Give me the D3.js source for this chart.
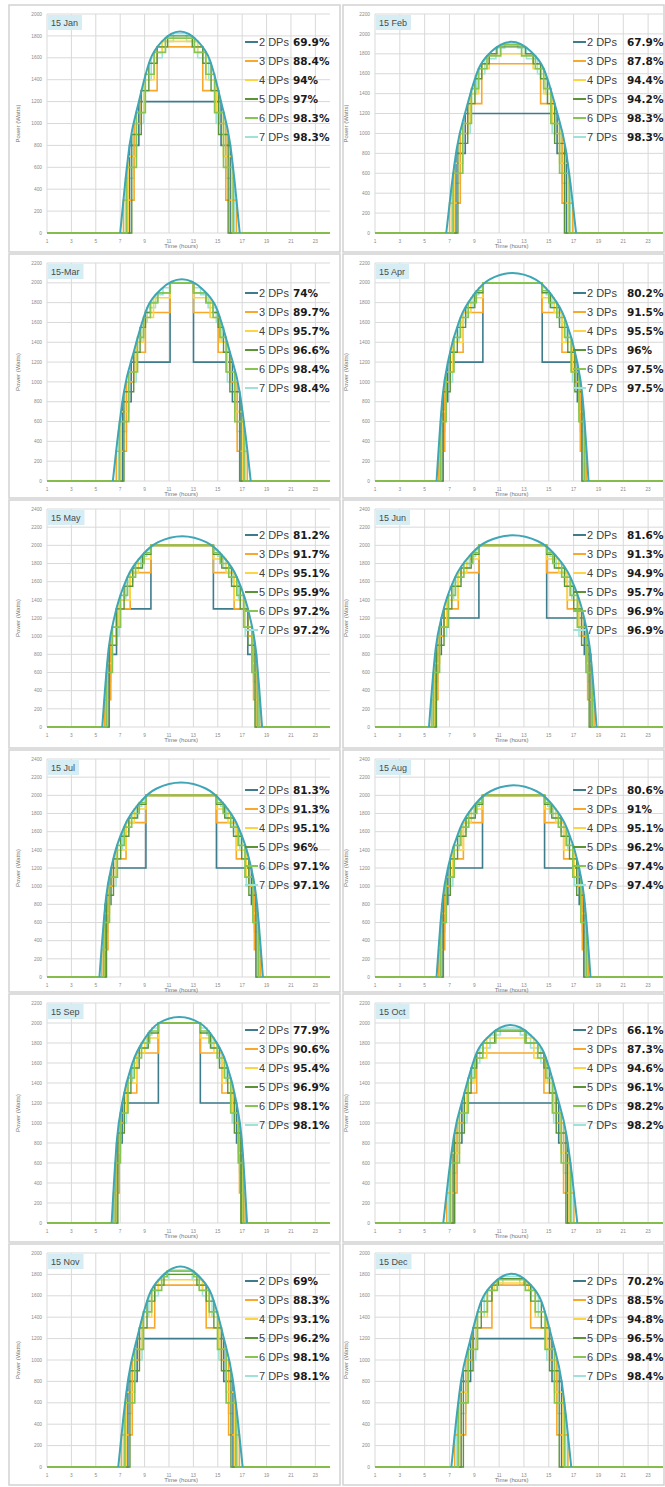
<!DOCTYPE html>
<html>
<head>
<meta charset="utf-8">
<script src="https://cdn.jsdelivr.net/npm/d3@7"></script>
<style>
  body { margin: 0; background: #fff; }
  svg { display: block; }
</style>
</head>
<body>
<svg width="665" height="1487"></svg>
<script>
// 12 small multiples: clear-sky power curve vs stepped "DP" approximations

var titles  = ["15 Jan", "15 Feb", "15-Mar", "15 Apr", "15 May", "15 Jun",
               "15 Jul", "15 Aug", "15 Sep", "15 Oct", "15 Nov", "15 Dec"];
var yMaxes  = [2000, 2200, 2200, 2200, 2400, 2400, 2400, 2400, 2200, 2200, 2000, 2000];
var dpNames = ["2 DPs", "3 DPs", "4 DPs", "5 DPs", "6 DPs", "7 DPs"];
var dpColors = ["#3e7c8c", "#f8a92b", "#fdd443", "#5b9436", "#86c552", "#9fe3d8"];
var xTicks  = [1, 3, 5, 7, 9, 11, 13, 15, 17, 19, 21, 23];

// captured energy (%) for 2..7 DPs
var pctJan = [69.9, 88.4, 94, 97, 98.3, 98.3];
var pctFeb = [67.9, 87.8, 94.4, 94.2, 98.3, 98.3];
var pctMar = [74, 89.7, 95.7, 96.6, 98.4, 98.4];
var pctApr = [80.2, 91.5, 95.5, 96, 97.5, 97.5];
var pctMay = [81.2, 91.7, 95.1, 95.9, 97.2, 97.2];
var pctJun = [81.6, 91.3, 94.9, 95.7, 96.9, 96.9];
var pctJul = [81.3, 91.3, 95.1, 96, 97.1, 97.1];
var pctAug = [80.6, 91, 95.1, 96.2, 97.4, 97.4];
var pctSep = [77.9, 90.6, 95.4, 96.9, 98.1, 98.1];
var pctOct = [66.1, 87.3, 94.6, 96.1, 98.2, 98.2];
var pctNov = [69, 88.3, 93.1, 96.2, 98.1, 98.1];
var pctDec = [70.2, 88.5, 94.8, 96.5, 98.4, 98.4];

// smooth power curve [hour, watts]
var curveJan = [[7.0,0],[7.39,440],[7.78,810],[8.52,1195],[9.45,1580],[10.43,1750],[11.9,1840],[13.37,1750],[14.35,1580],[15.28,1195],[16.02,810],[16.41,440],[16.8,0]];
var curveFeb = [[6.74,0],[7.16,460],[7.58,845],[8.36,1250],[9.35,1650],[10.4,1825],[11.97,1920],[13.54,1825],[14.59,1650],[15.58,1250],[16.36,845],[16.78,460],[17.2,0]];
var curveMar = [[6.4,0],[6.85,490],[7.3,895],[8.15,1320],[9.22,1750],[10.35,1935],[12.05,2035],[13.75,1935],[14.88,1750],[15.95,1320],[16.8,895],[17.25,490],[17.7,0]];
var curveApr = [[5.96,0],[6.45,860],[6.94,1240],[7.86,1640],[9.02,1890],[10.24,2035],[12.08,2100],[13.92,2035],[15.14,1890],[16.3,1640],[17.22,1240],[17.71,860],[18.2,0]];
var curveMay = [[5.53,0],[6.05,860],[6.58,1240],[7.56,1640],[8.8,1890],[10.11,2035],[12.08,2100],[14.05,2035],[15.36,1890],[16.6,1640],[17.58,1240],[18.11,860],[18.63,0]];
var curveJun = [[5.35,0],[5.89,865],[6.43,1245],[7.44,1645],[8.72,1900],[10.07,2045],[12.1,2110],[14.13,2045],[15.48,1900],[16.76,1645],[17.77,1245],[18.31,865],[18.85,0]];
var curveJul = [[5.3,0],[5.84,875],[6.37,1265],[7.38,1670],[8.65,1925],[9.99,2075],[12.0,2140],[14.01,2075],[15.35,1925],[16.62,1670],[17.63,1265],[18.16,875],[18.7,0]];
var curveAug = [[5.96,0],[6.46,865],[6.95,1245],[7.88,1645],[9.06,1900],[10.3,2045],[12.16,2110],[14.02,2045],[15.26,1900],[16.44,1645],[17.37,1245],[17.86,865],[18.36,0]];
var curveSep = [[6.3,0],[6.74,845],[7.19,1215],[8.02,1605],[9.07,1855],[10.18,2000],[11.85,2060],[13.52,2000],[14.63,1855],[15.68,1605],[16.51,1215],[16.96,845],[17.4,0]];
var curveOct = [[6.5,0],[6.93,475],[7.36,870],[8.17,1285],[9.2,1705],[10.28,1880],[11.9,1980],[13.52,1880],[14.6,1705],[15.63,1285],[16.44,870],[16.87,475],[17.3,0]];
var curveNov = [[6.84,0],[7.25,450],[7.66,825],[8.42,1220],[9.39,1610],[10.41,1780],[11.94,1875],[13.47,1780],[14.49,1610],[15.46,1220],[16.22,825],[16.63,450],[17.04,0]];
var curveDec = [[7.15,0],[7.54,435],[7.92,795],[8.65,1175],[9.56,1550],[10.53,1715],[11.98,1805],[13.43,1715],[14.4,1550],[15.31,1175],[16.04,795],[16.42,435],[16.81,0]];

// step series per DP count (2..7), [hour, watts] where the level changes
var stepsJan = [
  [[7.77,800],[8.53,1200],[15.27,800],[16.03,0]],
  [[7.27,300],[8.14,1000],[8.73,1300],[10.03,1700],[13.77,1300],[15.07,1000],[15.66,300],[16.53,0]],
  [[7.66,700],[8.33,1100],[8.93,1400],[9.78,1650],[10.45,1750],[13.35,1650],[14.02,1400],[14.87,1100],[15.47,700],[16.14,0]],
  [[7.95,900],[8.73,1300],[9.35,1550],[10.03,1700],[10.89,1800],[12.91,1700],[13.77,1550],[14.45,1300],[15.07,900],[15.85,0]],
  [[7.54,600],[8.33,1100],[9.06,1450],[9.78,1650],[10.71,1780],[13.09,1650],[14.02,1450],[14.74,1100],[15.47,600],[16.26,0]],
  [[7.44,500],[8.14,1000],[8.93,1400],[9.54,1600],[10.45,1750],[11.36,1820],[12.44,1750],[13.35,1600],[14.26,1400],[14.87,1000],[15.66,500],[16.36,0]]
];
var stepsFeb = [
  [[7.52,800],[8.27,1200],[15.67,800],[16.42,0]],
  [[7.01,300],[7.87,1000],[8.47,1300],[9.6,1700],[14.34,1300],[15.47,1000],[16.07,300],[16.93,0]],
  [[7.41,700],[8.07,1100],[8.67,1400],[9.35,1650],[10.2,1800],[13.74,1650],[14.59,1400],[15.27,1100],[15.87,700],[16.53,0]],
  [[7.68,900],[8.47,1300],[9.05,1550],[9.6,1700],[10.2,1800],[10.82,1870],[13.12,1800],[13.74,1700],[14.34,1550],[14.89,1300],[15.47,900],[16.26,0]],
  [[7.29,600],[8.07,1100],[8.77,1450],[9.35,1650],[10.02,1780],[11.13,1890],[12.81,1780],[13.92,1650],[14.59,1450],[15.17,1100],[15.87,600],[16.65,0]],
  [[7.19,500],[7.87,1000],[8.67,1400],[9.2,1600],[9.85,1750],[10.74,1860],[11.45,1900],[12.49,1860],[13.2,1750],[14.09,1600],[14.74,1400],[15.27,1000],[16.07,500],[16.75,0]]
];
var stepsMar = [
  [[7.19,800],[7.9,1200],[11.09,2000],[13.01,1200],[16.2,800],[16.91,0]],
  [[6.68,300],[7.51,1000],[8.11,1300],[9.07,1700],[11.09,2000],[13.01,1700],[15.03,1300],[15.99,1000],[16.59,300],[17.42,0]],
  [[7.07,700],[7.7,1100],[8.31,1400],[8.92,1650],[9.73,1850],[11.09,2000],[13.01,1850],[14.37,1650],[15.18,1400],[15.79,1100],[16.4,700],[17.03,0]],
  [[7.31,900],[8.11,1300],[8.63,1550],[9.07,1700],[9.48,1800],[10.07,1900],[11.09,2000],[13.01,1900],[14.03,1800],[14.62,1700],[15.03,1550],[15.47,1300],[15.99,900],[16.79,0]],
  [[6.95,600],[7.7,1100],[8.42,1450],[8.92,1650],[9.48,1800],[10.07,1900],[11.09,2000],[13.01,1900],[14.03,1800],[14.62,1650],[15.18,1450],[15.68,1100],[16.4,600],[17.15,0]],
  [[6.86,500],[7.51,1000],[8.31,1400],[8.76,1600],[9.22,1750],[9.89,1880],[10.51,1950],[11.09,2000],[13.01,1950],[13.59,1880],[14.21,1750],[14.88,1600],[15.34,1400],[15.79,1000],[16.59,500],[17.24,0]]
];
var stepsApr = [
  [[6.39,800],[6.86,1200],[9.69,2000],[14.47,1200],[17.3,800],[17.77,0]],
  [[6.14,300],[6.62,1000],[7.06,1300],[8.1,1700],[9.69,2000],[14.47,1700],[16.06,1300],[17.1,1000],[17.54,300],[18.02,0]],
  [[6.34,700],[6.73,1100],[7.25,1400],[8.1,1700],[8.73,1850],[9.69,2000],[14.47,1850],[15.43,1700],[16.06,1400],[16.91,1100],[17.43,700],[17.82,0]],
  [[6.5,900],[7.06,1300],[7.63,1550],[8.3,1750],[9.04,1900],[9.69,2000],[14.47,1900],[15.12,1750],[15.86,1550],[16.53,1300],[17.1,900],[17.66,0]],
  [[6.29,600],[6.73,1100],[7.36,1450],[7.89,1650],[8.51,1800],[9.16,1920],[9.69,2000],[14.47,1920],[15.0,1800],[15.65,1650],[16.27,1450],[16.8,1100],[17.43,600],[17.87,0]],
  [[6.24,500],[6.62,1000],[7.25,1400],[7.77,1600],[8.3,1750],[8.91,1880],[9.36,1950],[9.69,2000],[14.47,1950],[14.8,1880],[15.25,1750],[15.86,1600],[16.39,1400],[16.91,1000],[17.54,500],[17.92,0]]
];
var stepsMay = [
  [[5.99,800],[6.7,1300],[9.52,2000],[14.64,1300],[17.46,800],[18.17,0]],
  [[5.72,300],[6.23,1000],[6.7,1300],[7.82,1700],[9.52,2000],[14.64,1700],[16.34,1300],[17.46,1000],[17.93,300],[18.44,0]],
  [[5.94,700],[6.36,1100],[6.91,1400],[7.82,1700],[8.49,1850],[9.52,2000],[14.64,1850],[15.67,1700],[16.34,1400],[17.25,1100],[17.8,700],[18.22,0]],
  [[6.11,900],[6.7,1300],[7.32,1550],[8.03,1750],[8.83,1900],[9.52,2000],[14.64,1900],[15.33,1750],[16.13,1550],[16.84,1300],[17.46,900],[18.05,0]],
  [[5.88,600],[6.36,1100],[7.03,1450],[7.6,1650],[8.26,1800],[8.96,1920],[9.52,2000],[14.64,1920],[15.2,1800],[15.9,1650],[16.56,1450],[17.13,1100],[17.8,600],[18.28,0]],
  [[5.83,500],[6.23,1000],[6.91,1400],[7.46,1600],[8.03,1750],[8.69,1880],[9.17,1950],[9.52,2000],[14.64,1950],[14.99,1880],[15.47,1750],[16.13,1600],[16.7,1400],[17.25,1000],[17.93,500],[18.33,0]]
];
var stepsJun = [
  [[5.82,800],[6.34,1200],[9.37,2000],[14.83,1200],[17.86,800],[18.38,0]],
  [[5.55,300],[6.07,1000],[6.56,1300],[7.71,1700],[9.37,2000],[14.83,1700],[16.49,1300],[17.64,1000],[18.13,300],[18.65,0]],
  [[5.77,700],[6.2,1100],[6.77,1400],[7.71,1700],[8.4,1850],[9.37,2000],[14.83,1850],[15.8,1700],[16.49,1400],[17.43,1100],[18.0,700],[18.43,0]],
  [[5.95,900],[6.56,1300],[7.19,1550],[7.93,1750],[8.75,1900],[9.37,2000],[14.83,1900],[15.45,1750],[16.27,1550],[17.01,1300],[17.64,900],[18.25,0]],
  [[5.71,600],[6.2,1100],[6.9,1450],[7.48,1650],[8.16,1800],[8.88,1920],[9.37,2000],[14.83,1920],[15.32,1800],[16.04,1650],[16.72,1450],[17.3,1100],[18.0,600],[18.49,0]],
  [[5.66,500],[6.07,1000],[6.77,1400],[7.34,1600],[7.93,1750],[8.6,1880],[9.1,1950],[9.37,2000],[14.83,1950],[15.1,1880],[15.6,1750],[16.27,1600],[16.86,1400],[17.43,1000],[18.13,500],[18.54,0]]
];
var stepsJul = [
  [[5.76,800],[6.24,1200],[9.11,2000],[14.89,1200],[17.76,800],[18.24,0]],
  [[5.49,300],[6.0,1000],[6.45,1300],[7.48,1700],[9.11,2000],[14.89,1700],[16.52,1300],[17.55,1000],[18.0,300],[18.51,0]],
  [[5.71,700],[6.12,1100],[6.66,1400],[7.48,1700],[8.16,1850],[9.11,2000],[14.89,1850],[15.84,1700],[16.52,1400],[17.34,1100],[17.88,700],[18.29,0]],
  [[5.88,900],[6.45,1300],[7.04,1550],[7.71,1750],[8.43,1900],[9.11,2000],[14.89,1900],[15.57,1750],[16.29,1550],[16.96,1300],[17.55,900],[18.12,0]],
  [[5.66,600],[6.12,1100],[6.77,1450],[7.33,1650],[7.94,1800],[8.56,1920],[9.11,2000],[14.89,1920],[15.44,1800],[16.06,1650],[16.67,1450],[17.23,1100],[17.88,600],[18.34,0]],
  [[5.61,500],[6.0,1000],[6.66,1400],[7.19,1600],[7.71,1750],[8.31,1880],[8.76,1950],[9.11,2000],[14.89,1950],[15.24,1880],[15.69,1750],[16.29,1600],[16.81,1400],[17.34,1000],[18.0,500],[18.39,0]]
];
var stepsAug = [
  [[6.39,800],[6.87,1200],[9.66,2000],[14.66,1200],[17.45,800],[17.93,0]],
  [[6.14,300],[6.62,1000],[7.07,1300],[8.12,1700],[9.66,2000],[14.66,1700],[16.2,1300],[17.25,1000],[17.7,300],[18.18,0]],
  [[6.34,700],[6.74,1100],[7.27,1400],[8.12,1700],[8.76,1850],[9.66,2000],[14.66,1850],[15.56,1700],[16.2,1400],[17.05,1100],[17.58,700],[17.98,0]],
  [[6.51,900],[7.07,1300],[7.65,1550],[8.33,1750],[9.08,1900],[9.66,2000],[14.66,1900],[15.24,1750],[15.99,1550],[16.67,1300],[17.25,900],[17.81,0]],
  [[6.29,600],[6.74,1100],[7.38,1450],[7.92,1650],[8.55,1800],[9.2,1920],[9.66,2000],[14.66,1920],[15.12,1800],[15.77,1650],[16.4,1450],[16.94,1100],[17.58,600],[18.03,0]],
  [[6.25,500],[6.62,1000],[7.27,1400],[7.79,1600],[8.33,1750],[8.95,1880],[9.4,1950],[9.66,2000],[14.66,1950],[14.92,1880],[15.37,1750],[15.99,1600],[16.53,1400],[17.05,1000],[17.7,500],[18.07,0]]
];
var stepsSep = [
  [[6.71,800],[7.16,1200],[10.13,2000],[13.57,1200],[16.54,800],[16.99,0]],
  [[6.46,300],[6.92,1000],[7.34,1300],[8.36,1700],[10.13,2000],[13.57,1700],[15.34,1300],[16.36,1000],[16.78,300],[17.24,0]],
  [[6.65,700],[7.02,1100],[7.52,1400],[8.36,1700],[9.01,1850],[10.13,2000],[13.57,1850],[14.69,1700],[15.34,1400],[16.18,1100],[16.68,700],[17.05,0]],
  [[6.81,900],[7.34,1300],[7.88,1550],[8.56,1750],[9.3,1900],[10.13,2000],[13.57,1900],[14.4,1750],[15.14,1550],[15.82,1300],[16.36,900],[16.89,0]],
  [[6.61,600],[7.02,1100],[7.64,1450],[8.16,1650],[8.75,1800],[9.41,1920],[10.13,2000],[13.57,1920],[14.29,1800],[14.95,1650],[15.54,1450],[16.06,1100],[16.68,600],[17.09,0]],
  [[6.56,500],[6.92,1000],[7.52,1400],[8.01,1600],[8.56,1750],[9.19,1880],[9.59,1950],[10.13,2000],[13.57,1950],[14.11,1880],[14.51,1750],[15.14,1600],[15.69,1400],[16.18,1000],[16.78,500],[17.14,0]]
];
var stepsOct = [
  [[7.28,800],[8.0,1200],[15.8,800],[16.52,0]],
  [[6.78,300],[7.61,1000],[8.2,1300],[9.19,1700],[14.61,1300],[15.6,1000],[16.19,300],[17.02,0]],
  [[7.17,700],[7.8,1100],[8.41,1400],[9.04,1650],[10.0,1850],[13.8,1650],[14.76,1400],[15.39,1100],[16.0,700],[16.63,0]],
  [[7.42,900],[8.2,1300],[8.74,1550],[9.19,1700],[9.69,1800],[10.64,1920],[13.16,1800],[14.11,1700],[14.61,1550],[15.06,1300],[15.6,900],[16.38,0]],
  [[7.05,600],[7.8,1100],[8.51,1450],[9.04,1650],[9.69,1800],[10.73,1930],[13.07,1800],[14.11,1650],[14.76,1450],[15.29,1100],[16.0,600],[16.75,0]],
  [[6.95,500],[7.61,1000],[8.41,1400],[8.89,1600],[9.44,1750],[10.27,1880],[11.09,1950],[12.71,1880],[13.53,1750],[14.36,1600],[14.91,1400],[15.39,1000],[16.19,500],[16.85,0]]
];
var stepsNov = [
  [[7.63,800],[8.39,1200],[15.49,800],[16.25,0]],
  [[7.11,300],[7.99,1000],[8.58,1300],[9.83,1700],[14.05,1300],[15.3,1000],[15.89,300],[16.77,0]],
  [[7.51,700],[8.19,1100],[8.79,1400],[9.58,1650],[10.13,1750],[13.75,1650],[14.3,1400],[15.09,1100],[15.69,700],[16.37,0]],
  [[7.8,900],[8.58,1300],[9.2,1550],[9.83,1700],[10.59,1800],[13.29,1700],[14.05,1550],[14.68,1300],[15.3,900],[16.08,0]],
  [[7.39,600],[8.19,1100],[8.9,1450],[9.58,1650],[10.4,1780],[10.85,1830],[13.03,1780],[13.48,1650],[14.3,1450],[14.98,1100],[15.69,600],[16.49,0]],
  [[7.29,500],[7.99,1000],[8.79,1400],[9.35,1600],[10.13,1750],[10.97,1840],[12.91,1750],[13.75,1600],[14.53,1400],[15.09,1000],[15.89,500],[16.59,0]]
];
var stepsDec = [
  [[7.93,800],[8.7,1200],[15.26,800],[16.03,0]],
  [[7.42,300],[8.31,1000],[8.9,1300],[10.42,1700],[13.54,1300],[15.06,1000],[15.65,300],[16.54,0]],
  [[7.82,700],[8.5,1100],[9.12,1400],[10.05,1650],[10.59,1720],[13.37,1650],[13.91,1400],[14.84,1100],[15.46,700],[16.14,0]],
  [[8.12,900],[8.9,1300],[9.56,1550],[10.42,1700],[10.94,1760],[13.02,1700],[13.54,1550],[14.4,1300],[15.06,900],[15.84,0]],
  [[7.7,600],[8.5,1100],[9.26,1450],[10.05,1650],[10.85,1750],[13.11,1650],[13.91,1450],[14.7,1100],[15.46,600],[16.26,0]],
  [[7.6,500],[8.31,1000],[9.12,1400],[9.8,1600],[10.42,1700],[11.3,1780],[12.66,1700],[13.54,1600],[14.16,1400],[14.84,1000],[15.65,500],[16.36,0]]
];

var curves = [curveJan, curveFeb, curveMar, curveApr, curveMay, curveJun,
              curveJul, curveAug, curveSep, curveOct, curveNov, curveDec];
var steps  = [stepsJan, stepsFeb, stepsMar, stepsApr, stepsMay, stepsJun,
              stepsJul, stepsAug, stepsSep, stepsOct, stepsNov, stepsDec];
var pcts   = [pctJan, pctFeb, pctMar, pctApr, pctMay, pctJun,
              pctJul, pctAug, pctSep, pctOct, pctNov, pctDec];

// ---- layout ----
var hourDomain = [1, 24.2];
var colX0 = [47, 375], colX1 = [330, 663];
var frameX = [[9, 340], [343, 664]];
var rowTop = [14, 263, 509, 759, 1003, 1253];
var rowH   = [219, 218, 218, 218, 220, 214];
var frameTop = [5, 254, 500, 750, 994, 1244];
var frameBot = [252, 498, 748, 992, 1242, 1485];
var legendOff = [28, 30, 26, 31, 27, 28];
var pctOff = [246, 252];

var svg = d3.select("svg");
var gridColor = "#d9d9d9", tickColor = "#8a8a8a";
var smallFont = "Liberation Sans, Arial, sans-serif";

// draw order: 7 DPs at the bottom (mostly hidden under the curve), then 2..6
var drawOrder = [5, 0, 1, 2, 3, 4];
var dpWidth = [1.6, 1.6, 1.6, 1.4, 1.7, 1.6];

titles.forEach(function(title, i) {
  var col = i % 2, row = Math.floor(i / 2);
  var x0 = colX0[col], x1 = colX1[col];
  var top = rowTop[row], bottom = top + rowH[row];

  var x = d3.scaleLinear().domain(hourDomain).range([x0, x1]);
  var y = d3.scaleLinear().domain([0, yMaxes[i]]).range([bottom, top]);
  var yTicks = d3.range(0, yMaxes[i] + 1, 200);

  // panel frame
  svg.append("rect")
    .attr("x", frameX[col][0]).attr("y", frameTop[row])
    .attr("width", frameX[col][1] - frameX[col][0])
    .attr("height", frameBot[row] - frameTop[row])
    .attr("fill", "#fff")
    .attr("stroke", "#d2d2d2").attr("stroke-width", 1.5);

  var g = svg.append("g");

  // gridlines
  g.selectAll(".hg").data(yTicks).enter().append("line")
    .attr("x1", x0).attr("x2", x1)
    .attr("y1", function(d) { return y(d); }).attr("y2", function(d) { return y(d); })
    .attr("stroke", gridColor).attr("stroke-width", 1);
  g.selectAll(".vg").data(xTicks).enter().append("line")
    .attr("x1", function(d) { return x(d); }).attr("x2", function(d) { return x(d); })
    .attr("y1", top).attr("y2", bottom)
    .attr("stroke", gridColor).attr("stroke-width", 1);

  // tick labels
  g.selectAll(".yl").data(yTicks).enter().append("text")
    .attr("x", x0 - 5).attr("y", function(d) { return y(d); })
    .attr("dy", "0.35em").attr("text-anchor", "end")
    .attr("font-family", smallFont).attr("font-size", 4.8)
    .attr("fill", tickColor).text(function(d) { return d; });
  g.selectAll(".xl").data(xTicks).enter().append("text")
    .attr("x", function(d) { return x(d); }).attr("y", bottom + 10)
    .attr("text-anchor", "middle")
    .attr("font-family", smallFont).attr("font-size", 4.8)
    .attr("fill", tickColor).text(function(d) { return d; });

  // axis titles
  g.append("text")
    .attr("x", x(12)).attr("y", bottom + 15)
    .attr("text-anchor", "middle")
    .attr("font-family", smallFont).attr("font-size", 6)
    .attr("fill", "#777").text("Time (hours)");
  g.append("text")
    .attr("transform", "translate(" + (x0 - 27) + "," + ((top + bottom) / 2) + ") rotate(-90)")
    .attr("text-anchor", "middle")
    .attr("font-family", smallFont).attr("font-size", 6)
    .attr("fill", "#777").text("Power (Watts)");

  // step series
  var stepLine = d3.line()
    .x(function(d) { return x(d[0]); })
    .y(function(d) { return y(d[1]); })
    .curve(d3.curveStepAfter);
  drawOrder.forEach(function(k) {
    var pts = [[hourDomain[0], 0]].concat(steps[i][k], [[hourDomain[1], 0]]);
    g.append("path")
      .datum(pts)
      .attr("d", stepLine)
      .attr("fill", "none")
      .attr("stroke", dpColors[k])
      .attr("stroke-width", dpWidth[k]);
  });

  // smooth power curve on top
  var smooth = d3.line()
    .x(function(d) { return x(d[0]); })
    .y(function(d) { return y(d[1]); })
    .curve(d3.curveMonotoneX);
  g.append("path")
    .datum(curves[i])
    .attr("d", smooth)
    .attr("fill", "none")
    .attr("stroke", "#3ea6b6")
    .attr("stroke-width", 2);

  // title box
  var tt = g.append("text")
    .attr("x", x0 + 4).attr("y", top + 11.5)
    .attr("font-family", smallFont).attr("font-size", 9)
    .attr("fill", "#4a4a4a").text(title);
  var tw = tt.node().getComputedTextLength();
  g.insert("rect", function() { return tt.node(); })
    .attr("x", x0 + 1).attr("y", top + 1)
    .attr("width", tw + 7).attr("height", 15)
    .attr("fill", "#d6eef3");

  // legend
  dpNames.forEach(function(name, k) {
    var ly = top + legendOff[row] + 19 * k;
    g.append("line")
      .attr("x1", x0 + 198).attr("x2", x0 + 211)
      .attr("y1", ly).attr("y2", ly)
      .attr("stroke", dpColors[k]).attr("stroke-width", 2);
    g.append("text")
      .attr("x", x0 + 212).attr("y", ly).attr("dy", "0.36em")
      .attr("font-family", smallFont).attr("font-size", 11)
      .attr("fill", "#404040").text(name);
    g.append("text")
      .attr("x", x0 + pctOff[col]).attr("y", ly).attr("dy", "0.36em")
      .attr("font-family", "DejaVu Sans, sans-serif").attr("font-size", 10.5)
      .attr("font-weight", "bold")
      .attr("fill", "#1a1a1a").text(pcts[i][k] + "%");
  });
});
</script>
</body>
</html>
